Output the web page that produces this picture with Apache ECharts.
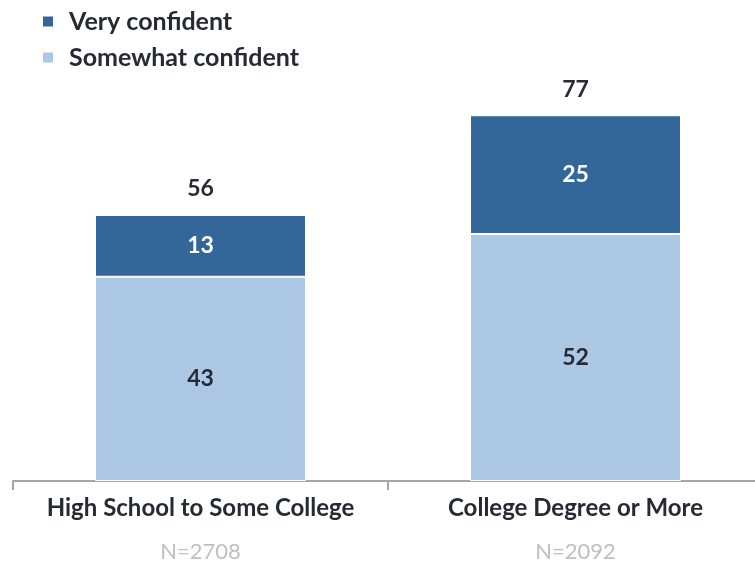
<!DOCTYPE html>
<html>
<head>
<meta charset="utf-8">
<script src="https://cdn.jsdelivr.net/npm/echarts@6/dist/echarts.min.js"></script>
<style>html,body{margin:0;padding:0;background:#fff;}#c{width:755px;height:562px;}</style>
</head>
<body>
<div id="c"></div>
<script>
var categories = ['High School to Some College', 'College Degree or More'];
var sampleSizes = ['N=2708', 'N=2092'];
var somewhatConfident = [43, 52];
var veryConfident = [13, 25];
var totals = [56, 77];

var FONT = 'Lato';
var chart = echarts.init(document.getElementById('c'));
chart.setOption({
  animation: false,
  textStyle: { fontFamily: FONT },
  legend: {
    orient: 'vertical', left: 36, top: 4,
    itemWidth: 12, itemHeight: 12, itemGap: 11,
    icon: 'rect',
    data: ['Very confident', 'Somewhat confident'],
    textStyle: { fontFamily: FONT, fontWeight: 'bold', fontSize: 25, color: '#262a33', padding: [0, 0, 0, 10] }
  },
  grid: { left: 13, right: -8, top: 6, bottom: 81, containLabel: false, outerBoundsMode: 'none' },
  xAxis: {
    type: 'category', data: categories,
    axisLine: { lineStyle: { color: '#a6a6a6', width: 2 } },
    axisTick: { show: true, length: 9, lineStyle: { color: '#a6a6a6', width: 2 } },
    axisLabel: {
      interval: 0, margin: 8,
      formatter: function (v, i) { return '{a|' + v + '}\n{b|' + sampleSizes[i] + '}'; },
      rich: {
        a: { fontFamily: FONT, fontWeight: 'bold', fontSize: 24, color: '#262a33', lineHeight: 38 },
        b: { fontFamily: FONT, fontSize: 22, color: '#bfbfbf', lineHeight: 50 }
      }
    }
  },
  yAxis: { type: 'value', min: 0, max: 100, show: false },
  series: [
    {
      name: 'Somewhat confident', type: 'bar', stack: 't', barWidth: 211,
      data: somewhatConfident,
      itemStyle: { color: '#adc8e4', borderColor: '#fff', borderWidth: 1 },
      label: { show: true, position: 'inside', fontFamily: FONT, fontWeight: 'bold', fontSize: 23, color: '#262a33' }
    },
    {
      name: 'Very confident', type: 'bar', stack: 't', barWidth: 211,
      data: veryConfident,
      itemStyle: { color: '#336699', borderColor: '#fff', borderWidth: 1 },
      label: { show: true, position: 'inside', fontFamily: FONT, fontWeight: 'bold', fontSize: 23, color: '#ffffff' }
    },
    {
      name: 'Total', type: 'scatter', data: totals, symbolSize: 1,
      itemStyle: { color: 'rgba(255,255,255,0)', opacity: 1 },
      label: { show: true, position: 'top', distance: 14, fontFamily: FONT, fontWeight: 'bold', fontSize: 23, color: '#262a33', opacity: 1 },
      emphasis: { disabled: true },
      silent: true
    }
  ]
});
</script>
</body>
</html>
